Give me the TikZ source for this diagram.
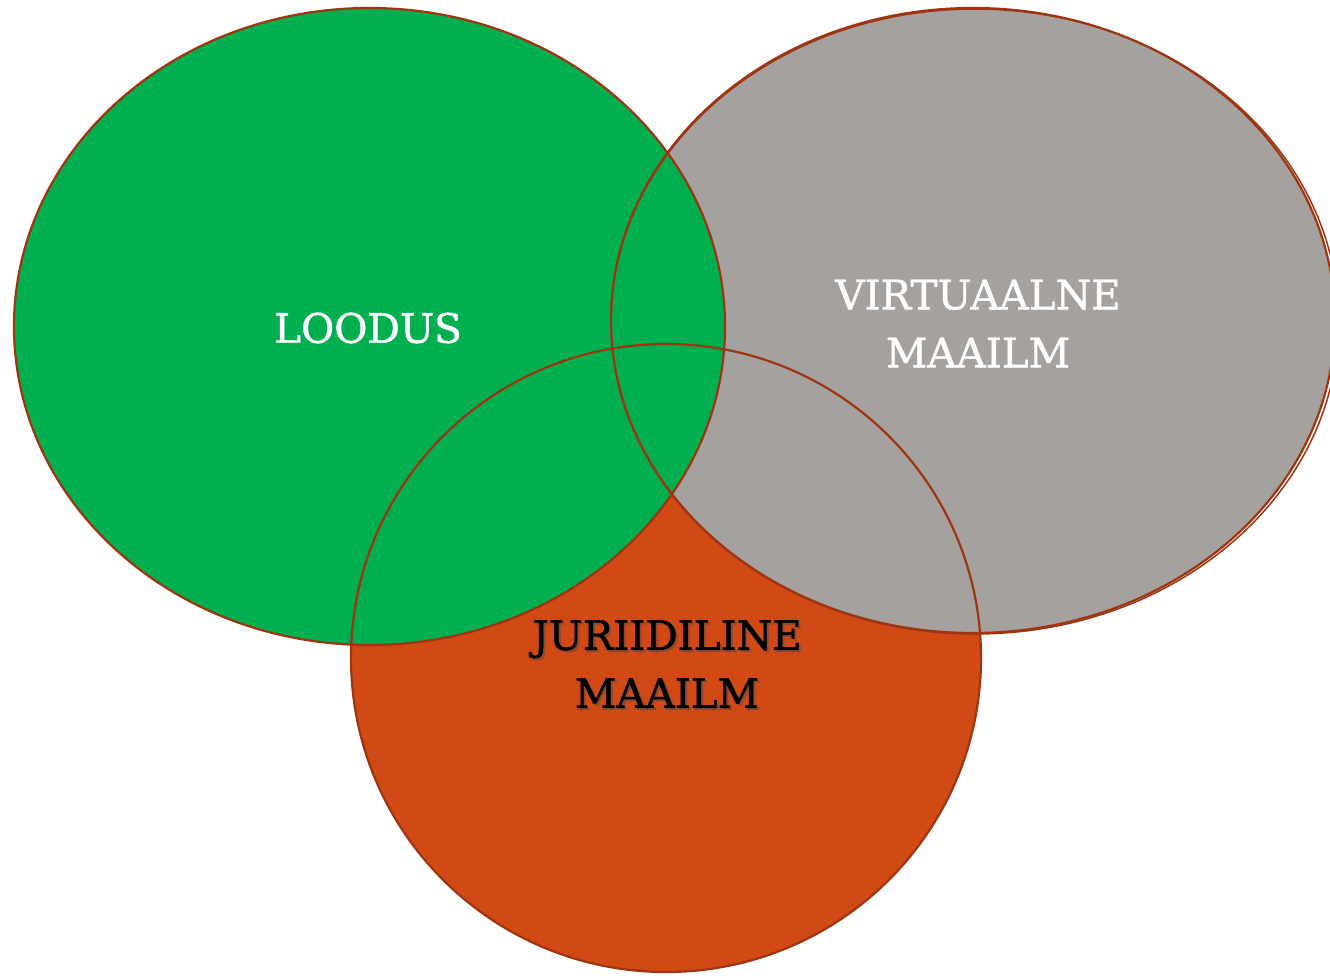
\documentclass[tikz,border=0pt]{standalone}
\usepackage{fontspec}
\setmainfont[FakeBold=1.2]{DejaVu Serif}
\definecolor{vgreen}{HTML}{00B050}
\definecolor{vgrey}{HTML}{A5A19F}
\definecolor{vorange}{HTML}{D14A16}
\definecolor{vline}{HTML}{9E3410}
\begin{document}
\begin{tikzpicture}[x=1pt,y=-1pt,
  outline/.style={draw=vline,line width=2.2pt},
  label/.style={font=\fontsize{40.5}{58}\selectfont,align=center,inner sep=0pt}]
\useasboundingbox (0,0) rectangle (1330,975);
% fills, bottom to top
\fill[vorange] (666,658) ellipse [x radius=315,y radius=314];
\fill[vgrey] (973,320.5) ellipse [x radius=362,y radius=312.5];
\fill[vgreen] (369.5,326.5) ellipse [x radius=355.5,y radius=318.5];
% outlines on top
\draw[outline] (666,658) ellipse [x radius=315,y radius=314];
\draw[outline] (973,320.5) ellipse [x radius=362,y radius=312.5];
\draw[outline,line width=1.5pt] (974.8,321.5) ellipse [x radius=363.8,y radius=312.5];
\draw[outline] (369.5,326.5) ellipse [x radius=355.5,y radius=318.5];
% texts
\node[label,text=white] (loodus) at (368,328) {LOODUS};
\node[label,text=white] (virtual) at (978,323.5) {VIRTUAALNE\\MAAILM};
\node[label,text=black!70,opacity=0.45] (jurshadow) at (669,666) {JURIIDILINE\\MAAILM};
\node[label,text=black] (jur) at (667,664) {JURIIDILINE\\MAAILM};
\end{tikzpicture}
\end{document}
